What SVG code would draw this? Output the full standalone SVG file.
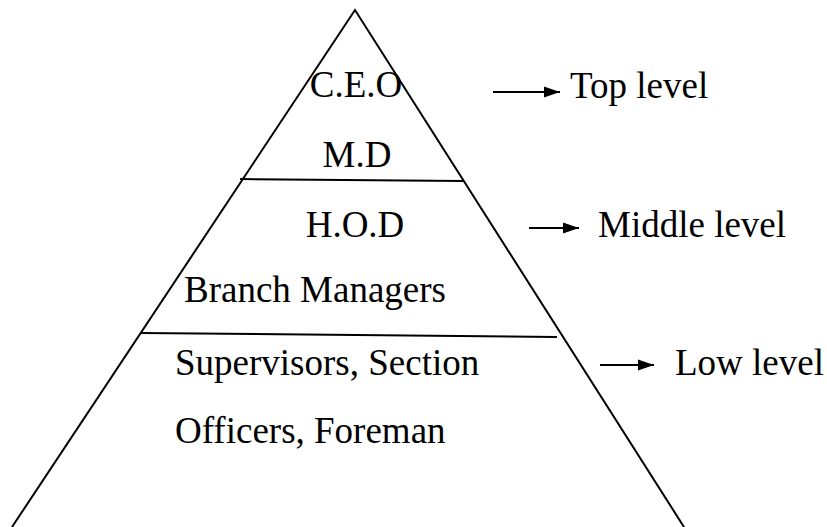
<svg xmlns="http://www.w3.org/2000/svg" width="827" height="527" viewBox="0 0 827 527">
<defs>
<marker id="ah" viewBox="0 0 10 10" refX="10" refY="5" markerWidth="8" markerHeight="8" markerUnits="strokeWidth" orient="auto"><path d="M0,1.5 L10,5 L0,8.5 z" fill="#000"/></marker>
<style>
text{font-family:"Liberation Serif","Times New Roman",serif;font-size:37px;fill:#000}
.ln{stroke:#000;stroke-width:2;fill:none}
.ar{stroke:#000;stroke-width:2;fill:none;marker-end:url(#ah)}
</style>
</defs>
<rect width="827" height="527" fill="#fff"/>
<g id="pyramid">
<polyline class="ln" points="12,527 355,10 684,527"/>
<line class="ln" x1="240" y1="179" x2="463" y2="181"/>
<line class="ln" x1="141" y1="333" x2="557" y2="337"/>
</g>
<g id="top">
<text x="356" y="97" text-anchor="middle">C.E.O</text>
<text x="357" y="167" text-anchor="middle">M.D</text>
</g>
<g id="middle">
<text x="355" y="237" text-anchor="middle">H.O.D</text>
<text x="315" y="302" text-anchor="middle">Branch Managers</text>
</g>
<g id="low">
<text x="175" y="375">Supervisors, Section</text>
<text x="175" y="443">Officers, Foreman</text>
</g>
<g id="labels">
<text x="570" y="98">Top level</text>
<text x="598" y="237">Middle level</text>
<text x="675" y="375">Low level</text>
</g>
<g id="connectors">
<line class="ar" x1="493" y1="92" x2="560" y2="92"/>
<line class="ar" x1="529" y1="228" x2="579" y2="228"/>
<line class="ar" x1="600" y1="365" x2="654" y2="365"/>
</g>
</svg>
